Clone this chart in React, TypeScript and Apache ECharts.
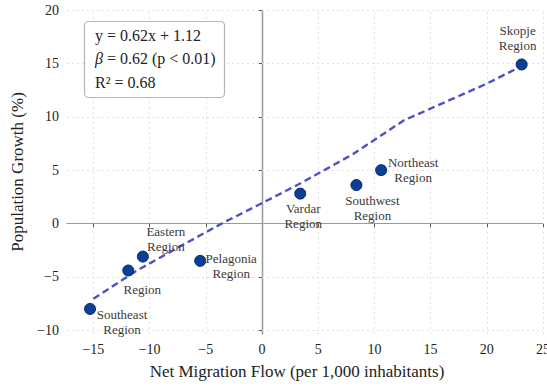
import React, { useEffect, useRef } from 'react';
import * as echarts from 'echarts';

const regionNames = ['Skopje\nRegion', 'Northeast\nRegion', 'Southwest\nRegion', 'Vardar\nRegion', 'Pelagonia\nRegion', 'Eastern\nRegion', 'Region', 'Southeast\nRegion'];
const netMigration = [23.1, 10.6, 8.4, 3.4, -5.5, -10.6, -11.9, -15.3];
const populationGrowth = [14.9, 5.0, 3.6, 2.8, -3.5, -3.1, -4.4, -8.0];
const trendX = [-15.0, -11.2, -6.7, -3.4, -0.2, 3.4, 8.1, 12.6, 20.0, 23.2];
const trendY = [-7.05, -4.45, -1.8, 0.1, 1.8, 3.75, 6.5, 9.65, 13.1, 14.8];
const xTicks = [-15, -10, -5, 0, 5, 10, 15, 20, 25];
const yTicks = [-10, -5, 0, 5, 10, 15, 20];
const statLines = ['y = 0.62x + 1.12', '{i|β} = 0.62 (p < 0.01)', 'R² = 0.68'];

const labelOffsets = [[-4, -26], [32, 0], [16, 23], [3, 22], [31, 5], [23, -18], [14, 19], [32, 13]];
const SERIF = 'Liberation Serif';

const fmt = (v: number) => String(v).replace('-', '\u2212');

export default function App() {
  const ref = useRef<HTMLDivElement>(null);
  useEffect(() => {
    if (!ref.current) return;
    const chart = echarts.init(ref.current, null, { renderer: 'svg' });
    const gridData: any[] = [];
    xTicks.forEach((v) => {
      gridData.push({
        xAxis: v,
        lineStyle: v === 0 ? { color: '#9a9a9a', type: 'solid', width: 1.2 } : { color: '#e2e2e2', type: [2, 3], width: 1 },
      });
    });
    yTicks.forEach((v) => {
      gridData.push({
        yAxis: v,
        lineStyle: v === 0 ? { color: '#9a9a9a', type: 'solid', width: 1.2 } : { color: '#e2e2e2', type: [2, 3], width: 1 },
      });
    });
    const axisCommon = {
      type: 'value',
      axisLine: { show: true, lineStyle: { color: '#555', width: 1.2 } },
      axisTick: { show: true, length: 4, lineStyle: { color: '#555' } },
      splitLine: { show: false },
      nameLocation: 'middle',
      nameTextStyle: { fontFamily: SERIF, fontSize: 17, color: '#222' },
    };
    chart.setOption({
      animation: false,
      backgroundColor: '#fff',
      grid: { left: 67, right: 4, top: 10, bottom: 58, containLabel: false, outerBoundsMode: 'none' },
      xAxis: {
        ...axisCommon,
        min: -17.35,
        max: 25,
        name: 'Net Migration Flow (per 1,000 inhabitants)',
        nameGap: 29,
        nameTextStyle: { ...axisCommon.nameTextStyle, padding: [0, 16, 0, 0] },
        axisTick: { ...axisCommon.axisTick, customValues: xTicks },
        axisLabel: { customValues: xTicks, formatter: fmt, fontFamily: SERIF, fontSize: 14, color: '#222', margin: 8 },
      },
      yAxis: {
        ...axisCommon,
        min: -10.35,
        max: 20,
        name: 'Population Growth (%)',
        nameGap: 36,
        axisTick: { ...axisCommon.axisTick, customValues: yTicks },
        axisLabel: { customValues: yTicks, formatter: fmt, fontFamily: SERIF, fontSize: 14, color: '#222', margin: 8 },
      },
      series: [
        {
          type: 'line',
          data: [],
          silent: true,
          z: 1,
          markLine: {
            silent: true,
            symbol: 'none',
            z: 1,
            label: { show: false },
            data: gridData,
          },
        },
        {
          type: 'line',
          data: trendX.map((x, i) => [x, trendY[i]]),
          showSymbol: false,
          symbol: 'none',
          z: 2,
          lineStyle: { color: '#4e50c6', width: 2.4, type: [7, 4] },
        },
        {
          type: 'scatter',
          z: 3,
          symbolSize: 11,
          itemStyle: { color: '#0b3f95', borderColor: '#06296a', borderWidth: 1, opacity: 1 },
          label: {
            show: true,
            position: 'inside',
            formatter: '{b}',
            fontFamily: SERIF,
            fontSize: 13,
            lineHeight: 15,
            color: '#3a3a3a',
            align: 'center',
            verticalAlign: 'middle',
          },
          data: netMigration.map((x, i) => ({
            name: regionNames[i],
            value: [x, populationGrowth[i]],
            label: { offset: labelOffsets[i] },
          })),
        },
      ],
      graphic: [
        {
          type: 'rect',
          z: 10,
          shape: { x: 84.5, y: 21.5, width: 140, height: 76, r: 4 },
          style: { fill: '#fff', stroke: '#b5b5b5', lineWidth: 1.2 },
        },
        ...statLines.map((t, i) => ({
          type: 'text',
          z: 11,
          x: 95,
          y: 35 + i * 23.5,
          style: {
            text: t,
            fontFamily: SERIF,
            fontSize: 16,
            fill: '#222',
            verticalAlign: 'middle',
            rich: { i: { fontStyle: 'italic', fontFamily: SERIF, fontSize: 16, fill: '#222' } },
          },
        })),
      ],
    });
    return () => chart.dispose();
  }, []);
  return <div ref={ref} style={{ width: 547, height: 392, position: 'absolute', left: 0, top: 0 }} />;
}
